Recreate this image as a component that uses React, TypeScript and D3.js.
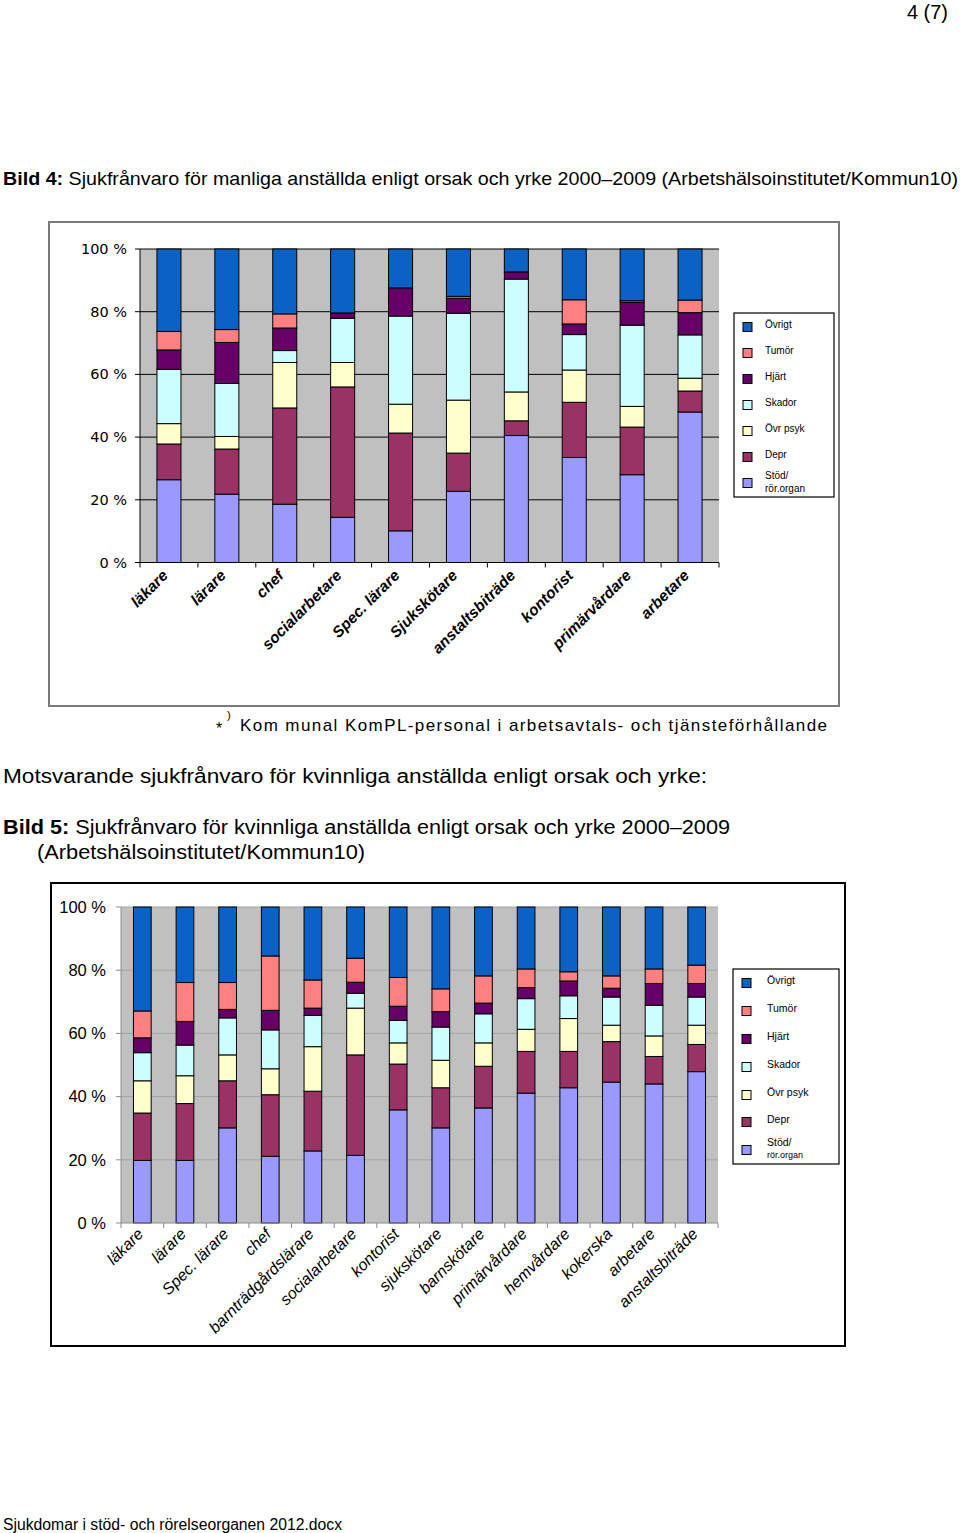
import React from "react";
import * as d3 from "d3";

// ---------- DATA ----------
const seriesKeys = ["stod", "depr", "ovrpsyk", "skador", "hjart", "tumor", "ovrigt"];
const seriesColors = ["#9999ff", "#993366", "#ffffcc", "#ccffff", "#660066", "#ff8080", "#0c62c4"];
const legendOrder = ["ovrigt", "tumor", "hjart", "skador", "ovrpsyk", "depr", "stod"];
const legendLabels: Record<string, string[]> = {
  ovrigt: ["Övrigt"],
  tumor: ["Tumör"],
  hjart: ["Hjärt"],
  skador: ["Skador"],
  ovrpsyk: ["Övr psyk"],
  depr: ["Depr"],
  stod: ["Stöd/", "rör.organ"],
};
const yTicks = [0, 20, 40, 60, 80, 100];

// Bild 4 – men
const menCats = ["läkare", "lärare", "chef", "socialarbetare", "Spec. lärare", "Sjukskötare", "anstaltsbiträde", "kontorist", "primärvårdare", "arbetare"];
const menStod = [26.4, 21.8, 18.6, 14.4, 10.1, 22.7, 40.5, 33.5, 28.0, 48.0];
const menDepr = [11.4, 14.4, 30.7, 41.6, 31.2, 12.2, 4.7, 17.6, 15.2, 6.7];
const menOvrPsyk = [6.5, 4.0, 14.5, 7.8, 9.2, 16.9, 9.2, 10.3, 6.6, 4.1];
const menSkador = [17.3, 16.9, 3.8, 14.1, 28.1, 27.7, 36.0, 11.3, 25.9, 13.8];
const menHjart = [6.2, 13.1, 7.2, 1.7, 9.0, 4.8, 2.3, 3.4, 7.3, 7.1];
const menTumor = [5.9, 4.1, 4.5, 0, 0, 0.6, 0, 7.7, 0.5, 4.0];
const menOvrigt = [26.3, 25.7, 20.7, 20.4, 12.4, 15.1, 7.3, 16.2, 16.5, 16.3];

// Bild 5 – women
const womenCats = ["läkare", "lärare", "Spec. lärare", "chef", "barnträdgårdslärare", "socialarbetare", "kontorist", "sjukskötare", "barnskötare", "primärvårdare", "hemvårdare", "kokerska", "arbetare", "anstaltsbiträde"];
const womenStod = [19.8, 19.8, 30.1, 21.1, 22.8, 21.4, 35.8, 30.1, 36.4, 41.1, 42.8, 44.6, 44.0, 47.9];
const womenDepr = [15.0, 18.0, 14.9, 19.5, 18.9, 31.8, 14.5, 12.7, 13.2, 13.2, 11.5, 12.8, 8.7, 8.6];
const womenOvrPsyk = [10.2, 8.8, 8.2, 8.2, 14.1, 14.8, 6.7, 8.7, 7.4, 7.0, 10.4, 5.2, 6.5, 6.1];
const womenSkador = [8.9, 9.7, 11.7, 12.3, 9.9, 4.7, 7.1, 10.5, 9.2, 9.7, 7.2, 8.9, 9.7, 8.9];
const womenHjart = [4.7, 7.5, 2.7, 6.2, 2.3, 3.5, 4.5, 4.9, 3.4, 3.5, 4.7, 2.8, 6.9, 4.3];
const womenTumor = [8.5, 12.3, 8.5, 17.2, 8.9, 7.6, 9.1, 7.2, 8.6, 5.9, 2.9, 3.9, 4.6, 5.8];
const womenOvrigt = [32.9, 23.9, 23.9, 15.5, 23.1, 16.2, 22.3, 25.9, 21.8, 19.6, 20.5, 21.8, 19.6, 18.4];

function buildRows(cats: string[], cols: number[][]) {
  return cats.map((c, i) => {
    const r: any = { cat: c };
    seriesKeys.forEach((k, j) => (r[k] = cols[j][i]));
    return r;
  });
}

const menRows = buildRows(menCats, [menStod, menDepr, menOvrPsyk, menSkador, menHjart, menTumor, menOvrigt]);
const womenRows = buildRows(womenCats, [womenStod, womenDepr, womenOvrPsyk, womenSkador, womenHjart, womenTumor, womenOvrigt]);

const SANS = "'Liberation Sans', Arial, sans-serif";

type ChartProps = {
  rows: any[];
  cats: string[];
  frame: [number, number, number, number];
  frameStroke: string;
  plot: [number, number, number, number]; // x0, x1, yTop, yBot
  gridColor: string;
  axisColor: string;
  yLabelFont: string;
  yLabelSize: number;
  yLabelRight: number;
  xLabelStyle: { size: number; weight: string; dx: number; dy: number };
  legend: { x: number; y: number; w: number; h: number; rowY: number[]; sw: number; textX: number; fontSize: number; subSize: number };
};

function StackedChart(p: ChartProps) {
  const [x0, x1, yTop, yBot] = p.plot;
  const x = d3.scaleBand<string>().domain(p.cats).range([x0, x1]).padding(0);
  const y = d3.scaleLinear().domain([0, 100]).range([yBot, yTop]);
  const stack = d3.stack<any>().keys(seriesKeys)(p.rows);
  const bw = x.bandwidth() * 0.415;
  const off = (x.bandwidth() - bw) / 2;
  const colorOf = d3.scaleOrdinal<string, string>().domain(seriesKeys).range(seriesColors);
  const [fx, fy, fw, fh] = p.frame;
  const L = p.legend;
  return (
    <g>
      <rect x={fx} y={fy} width={fw} height={fh} fill="#fff" stroke={p.frameStroke} strokeWidth={2} />
      <rect x={x0} y={yTop} width={x1 - x0} height={yBot - yTop} fill="#c0c0c0" />
      {yTicks.filter((t) => t > 0).map((t) => (
        <line key={"g" + t} x1={x0} x2={x1} y1={y(t)} y2={y(t)} stroke={p.gridColor} strokeWidth={1} />
      ))}
      {stack.map((s) => (
        <g key={s.key} fill={colorOf(s.key)}>
          {s.map((d, i) =>
            d[1] - d[0] > 0 ? (
              <rect key={i} x={(x(p.cats[i]) as number) + off} y={y(d[1])} width={bw} height={y(d[0]) - y(d[1])} stroke="#000" strokeWidth={1} />
            ) : null
          )}
        </g>
      ))}
      {/* axes */}
      <line x1={x0} x2={x0} y1={yTop} y2={yBot} stroke={p.axisColor} />
      <line x1={x0} x2={x1} y1={yBot} y2={yBot} stroke={p.axisColor} />
      {yTicks.map((t) => (
        <g key={"yt" + t}>
          <line x1={x0 - 5} x2={x0} y1={y(t)} y2={y(t)} stroke={p.axisColor} />
          <text x={p.yLabelRight} y={y(t)} dy="0.35em" textAnchor="end" fontFamily={p.yLabelFont} fontSize={p.yLabelSize} fill="#000">
            {t} %
          </text>
        </g>
      ))}
      {[...p.cats.map((c) => x(c) as number), x1].map((xx, i) => (
        <line key={"xt" + i} x1={xx} x2={xx} y1={yBot} y2={yBot + 5} stroke={p.axisColor} />
      ))}
      {p.cats.map((c) => {
        const cx = (x(c) as number) + x.bandwidth() / 2 + p.xLabelStyle.dx;
        const cy = yBot + p.xLabelStyle.dy;
        return (
          <text key={"xl" + c} x={cx} y={cy} textAnchor="end" transform={`rotate(-45 ${cx} ${cy})`} fontFamily={SANS} fontStyle="italic" fontWeight={p.xLabelStyle.weight} fontSize={p.xLabelStyle.size} fill="#000">
            {c}
          </text>
        );
      })}
      {/* legend */}
      <rect x={L.x} y={L.y} width={L.w} height={L.h} fill="#fff" stroke="#000" strokeWidth={1.2} />
      {legendOrder.map((k, i) => {
        const cy = L.rowY[i];
        const lines = legendLabels[k];
        return (
          <g key={"lg" + k}>
            <rect x={L.x + 9} y={cy - L.sw / 2} width={L.sw} height={L.sw} fill={colorOf(k)} stroke="#000" strokeWidth={1} />
            {lines.length === 1 ? (
              <text x={L.textX} y={cy - 3} dy="0.35em" fontFamily={SANS} fontSize={L.fontSize} fill="#000">{lines[0]}</text>
            ) : (
              <>
                <text x={L.textX} y={cy - 8} dy="0.35em" fontFamily={SANS} fontSize={L.fontSize} fill="#000">{lines[0]}</text>
                <text x={L.textX} y={cy + 5} dy="0.35em" fontFamily={SANS} fontSize={L.subSize} fill="#000">{lines[1]}</text>
              </>
            )}
          </g>
        );
      })}
    </g>
  );
}

export default function App() {
  return (
    <svg width={960} height={1533} style={{ position: "absolute", left: 0, top: 0, background: "#fff" }} xmlns="http://www.w3.org/2000/svg">
      <rect x={0} y={0} width={960} height={1533} fill="#fff" />
      <text x={948} y={19} textAnchor="end" fontFamily={SANS} fontSize={20} fill="#000">4 (7)</text>
      <text x={3} y={185} fontFamily={SANS} fontSize={18.5} fill="#000" textLength={955} lengthAdjust="spacingAndGlyphs">
        <tspan fontWeight="bold">Bild 4:</tspan> Sjukfrånvaro för manliga anställda enligt orsak och yrke 2000–2009 (Arbetshälsoinstitutet/Kommun10)
      </text>

      <StackedChart
        rows={menRows}
        cats={menCats}
        frame={[49, 222, 790, 484]}
        frameStroke="#7a7a7a"
        plot={[140, 719, 249, 562.5]}
        gridColor="#000"
        axisColor="#000"
        yLabelFont="'DejaVu Sans', Verdana, sans-serif"
        yLabelSize={14.5}
        yLabelRight={127}
        xLabelStyle={{ size: 15.5, weight: "bold", dx: 0, dy: 14 }}
        legend={{ x: 734, y: 313, w: 100, h: 184, rowY: [327, 353, 379, 405, 431, 457, 483], sw: 9, textX: 765, fontSize: 10, subSize: 10 }}
      />

      <text x={216} y={734} fontFamily={SANS} fontSize={16} fill="#000">*</text>
      <text x={227} y={719} fontFamily={SANS} fontSize={11} fill="#000">)</text>
      <text x={240} y={731} fontFamily={SANS} fontSize={17} fill="#000" textLength={587} lengthAdjust="spacing">
        Kom munal KomPL-personal i arbetsavtals- och tjänsteförhållande
      </text>

      <text x={3} y={783} fontFamily={SANS} fontSize={20} fill="#000" textLength={704} lengthAdjust="spacingAndGlyphs">
        Motsvarande sjukfrånvaro för kvinnliga anställda enligt orsak och yrke:
      </text>
      <text x={3} y={834} fontFamily={SANS} fontSize={20} fill="#000" textLength={727} lengthAdjust="spacingAndGlyphs">
        <tspan fontWeight="bold">Bild 5:</tspan> Sjukfrånvaro för kvinnliga anställda enligt orsak och yrke 2000–2009
      </text>
      <text x={37} y={859} fontFamily={SANS} fontSize={20} fill="#000" textLength={328} lengthAdjust="spacingAndGlyphs">
        (Arbetshälsoinstitutet/Kommun10)
      </text>

      <StackedChart
        rows={womenRows}
        cats={womenCats}
        frame={[51, 883, 794, 463]}
        frameStroke="#000"
        plot={[121, 718, 907, 1223]}
        gridColor="#a4a4a4"
        axisColor="#8c8c8c"
        yLabelFont={SANS}
        yLabelSize={16.5}
        yLabelRight={106}
        xLabelStyle={{ size: 16, weight: "normal", dx: 2, dy: 12 }}
        legend={{ x: 733, y: 969, w: 106, h: 195, rowY: [983, 1011, 1039, 1067, 1095, 1122, 1150], sw: 9, textX: 767, fontSize: 10.5, subSize: 9 }}
      />

      <text x={3} y={1530} fontFamily={SANS} fontSize={16} fill="#000" textLength={339} lengthAdjust="spacingAndGlyphs">
        Sjukdomar i stöd- och rörelseorganen 2012.docx
      </text>
    </svg>
  );
}
